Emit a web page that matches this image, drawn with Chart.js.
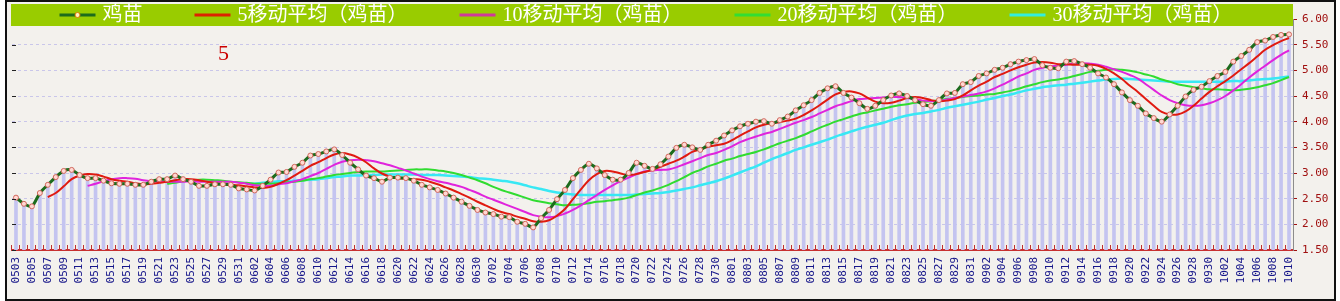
<!DOCTYPE html>
<html>
<head>
<meta charset="utf-8">
<title>鸡苗</title>
<script src="https://cdn.jsdelivr.net/npm/chart.js@4.4.0/dist/chart.umd.min.js"></script>
<style>
    html, body { margin: 0; padding: 0; background: #ffffff; }
    #marco {
        position: absolute; left: 5px; top: 0px;
        width: 1327px; height: 297px;
        border: 2px solid #111111;
        background: #f3f1ed;
    }
    #marco canvas { display: block; }
</style>
</head>
<body>
<div id="marco"><canvas id="grafica-jimiao" width="1327" height="297"></canvas></div>
<script>
// Fechas (MMDD), un punto por día
const fechas = [
    '0503','0504','0505','0506','0507','0508','0509','0510','0511','0512','0513','0514','0515','0516','0517','0518','0519','0520','0521','0522','0523','0524','0525','0526','0527','0528','0529','0530','0531',
    '0601','0602','0603','0604','0605','0606','0607','0608','0609','0610','0611','0612','0613','0614','0615','0616','0617','0618','0619','0620','0621','0622','0623','0624','0625','0626','0627','0628','0629','0630',
    '0701','0702','0703','0704','0705','0706','0707','0708','0709','0710','0711','0712','0713','0714','0715','0716','0717','0718','0719','0720','0721','0722','0723','0724','0725','0726','0727','0728','0729','0730','0731',
    '0801','0802','0803','0804','0805','0806','0807','0808','0809','0810','0811','0812','0813','0814','0815','0816','0817','0818','0819','0820','0821','0822','0823','0824','0825','0826','0827','0828','0829','0830','0831',
    '0901','0902','0903','0904','0905','0906','0907','0908','0909','0910','0911','0912','0913','0914','0915','0916','0917','0918','0919','0920','0921','0922','0923','0924','0925','0926','0927','0928','0929','0930',
    '1001','1002','1003','1004','1005','1006','1007','1008','1009','1010'
];

// Precio del pollito (鸡苗)
const precio = [
    2.52, 2.40, 2.35, 2.61, 2.77, 2.92, 3.04, 3.06, 2.96, 2.90,
    2.90, 2.85, 2.80, 2.79, 2.79, 2.77, 2.77, 2.83, 2.88, 2.88,
    2.95, 2.88, 2.83, 2.75, 2.75, 2.78, 2.78, 2.77, 2.70, 2.68,
    2.66, 2.75, 2.87, 3.01, 3.02, 3.12, 3.20, 3.34, 3.37, 3.42,
    3.46, 3.35, 3.20, 3.07, 2.95, 2.90, 2.83, 2.91, 2.91, 2.90,
    2.85, 2.77, 2.72, 2.67, 2.60, 2.52, 2.44, 2.36, 2.28, 2.23,
    2.20, 2.15, 2.14, 2.05, 2.01, 1.94, 2.12, 2.28, 2.49, 2.67,
    2.90, 3.06, 3.18, 3.09, 2.96, 2.87, 2.87, 3.00, 3.20, 3.14,
    3.08, 3.17, 3.32, 3.49, 3.55, 3.50, 3.45, 3.55, 3.63, 3.73,
    3.83, 3.91, 3.96, 4.00, 4.01, 3.96, 4.03, 4.10, 4.22, 4.32,
    4.42, 4.56, 4.65, 4.69, 4.56, 4.47, 4.36, 4.25, 4.31, 4.42,
    4.51, 4.55, 4.50, 4.42, 4.34, 4.31, 4.42, 4.55, 4.56, 4.73,
    4.77, 4.89, 4.94, 5.01, 5.05, 5.12, 5.17, 5.20, 5.22, 5.10,
    5.05, 5.04, 5.17, 5.18, 5.12, 5.05, 4.94, 4.86, 4.73, 4.57,
    4.42, 4.31, 4.16, 4.07, 4.00, 4.14, 4.31, 4.49, 4.62, 4.68,
    4.79, 4.89, 4.97, 5.17, 5.28, 5.40, 5.55, 5.58, 5.65, 5.69,
    5.70
];

// Medias móviles
const media5 = [
    null, null, null, null,
    2.53, 2.61, 2.74, 2.88, 2.95, 2.98,
    2.97, 2.93, 2.88, 2.85, 2.83, 2.80, 2.78, 2.79, 2.81, 2.83,
    2.86, 2.88, 2.88, 2.86, 2.83, 2.80, 2.78, 2.77, 2.76, 2.74,
    2.72, 2.71, 2.73, 2.79, 2.86, 2.95, 3.04, 3.14, 3.21, 3.29,
    3.36, 3.39, 3.36, 3.30, 3.21, 3.09, 2.99, 2.93, 2.90, 2.89,
    2.88, 2.87, 2.83, 2.78, 2.72, 2.66, 2.59, 2.52, 2.44, 2.37,
    2.30, 2.24, 2.20, 2.15, 2.11, 2.06, 2.05, 2.08, 2.17, 2.30,
    2.49, 2.68, 2.86, 2.98, 3.04, 3.03, 2.99, 2.96, 2.98, 3.02,
    3.06, 3.12, 3.18, 3.24, 3.32, 3.41, 3.46, 3.51, 3.54, 3.57,
    3.64, 3.73, 3.81, 3.89, 3.94, 3.97, 3.99, 4.02, 4.06, 4.13,
    4.22, 4.32, 4.43, 4.53, 4.58, 4.59, 4.55, 4.47, 4.39, 4.36,
    4.37, 4.41, 4.46, 4.48, 4.46, 4.42, 4.40, 4.41, 4.44, 4.51,
    4.61, 4.70, 4.78, 4.87, 4.93, 5.00, 5.06, 5.11, 5.15, 5.16,
    5.15, 5.12, 5.12, 5.11, 5.11, 5.11, 5.09, 5.03, 4.94, 4.83,
    4.70, 4.58, 4.44, 4.31, 4.19, 4.14, 4.14, 4.20, 4.31, 4.45,
    4.58, 4.69, 4.79, 4.90, 5.02, 5.14, 5.27, 5.40, 5.49, 5.57,
    5.63
];

const media10 = [
    null, null, null, null, null, null, null, null, null,
    2.75,
    2.79, 2.84, 2.88, 2.90, 2.90, 2.89, 2.86, 2.84, 2.83, 2.83,
    2.83, 2.83, 2.84, 2.83, 2.83, 2.83, 2.83, 2.83, 2.81, 2.79,
    2.76, 2.75, 2.75, 2.78, 2.80, 2.84, 2.88, 2.94, 3.00, 3.08,
    3.16, 3.22, 3.25, 3.26, 3.25, 3.23, 3.19, 3.15, 3.10, 3.05,
    2.99, 2.93, 2.88, 2.84, 2.81, 2.77, 2.73, 2.67, 2.61, 2.54,
    2.48, 2.42, 2.36, 2.30, 2.24, 2.18, 2.15, 2.14, 2.16, 2.21,
    2.28, 2.37, 2.47, 2.57, 2.67, 2.76, 2.84, 2.91, 2.98, 3.03,
    3.05, 3.06, 3.07, 3.11, 3.17, 3.23, 3.29, 3.35, 3.39, 3.45,
    3.52, 3.60, 3.66, 3.71, 3.76, 3.80, 3.86, 3.92, 3.98, 4.03,
    4.09, 4.16, 4.23, 4.30, 4.35, 4.40, 4.44, 4.45, 4.46, 4.47,
    4.48, 4.48, 4.46, 4.44, 4.41, 4.40, 4.40, 4.43, 4.46, 4.49,
    4.52, 4.55, 4.59, 4.65, 4.72, 4.80, 4.88, 4.94, 5.01, 5.05,
    5.08, 5.09, 5.11, 5.13, 5.14, 5.13, 5.11, 5.07, 5.02, 4.97,
    4.91, 4.84, 4.73, 4.62, 4.51, 4.42, 4.36, 4.32, 4.31, 4.32,
    4.36, 4.42, 4.50, 4.61, 4.73, 4.86, 4.98, 5.09, 5.20, 5.30,
    5.39
];

const media20 = [
    null, null, null, null, null, null, null, null, null, null,
    null, null, null, null, null, null, null, null, null,
    2.79,
    2.81, 2.84, 2.86, 2.87, 2.87, 2.86, 2.85, 2.83, 2.82, 2.81,
    2.79, 2.79, 2.79, 2.80, 2.82, 2.83, 2.85, 2.88, 2.90, 2.93,
    2.96, 2.98, 3.00, 3.02, 3.03, 3.03, 3.03, 3.04, 3.05, 3.06,
    3.07, 3.07, 3.07, 3.05, 3.03, 3.00, 2.96, 2.91, 2.86, 2.80,
    2.73, 2.67, 2.62, 2.57, 2.52, 2.47, 2.44, 2.41, 2.39, 2.37,
    2.38, 2.39, 2.41, 2.44, 2.45, 2.47, 2.49, 2.52, 2.57, 2.62,
    2.66, 2.71, 2.77, 2.84, 2.92, 3.00, 3.06, 3.13, 3.18, 3.24,
    3.28, 3.33, 3.37, 3.41, 3.46, 3.52, 3.58, 3.63, 3.68, 3.74,
    3.81, 3.88, 3.94, 4.00, 4.05, 4.10, 4.15, 4.18, 4.22, 4.25,
    4.29, 4.32, 4.34, 4.37, 4.38, 4.40, 4.42, 4.44, 4.46, 4.48,
    4.50, 4.51, 4.53, 4.54, 4.57, 4.60, 4.64, 4.69, 4.73, 4.77,
    4.80, 4.82, 4.85, 4.89, 4.93, 4.97, 4.99, 5.01, 5.02, 5.01,
    4.99, 4.96, 4.92, 4.88, 4.82, 4.78, 4.73, 4.70, 4.67, 4.65,
    4.63, 4.63, 4.62, 4.61, 4.62, 4.64, 4.67, 4.71, 4.75, 4.81,
    4.87
];

const media30 = [
    null, null, null, null, null, null, null, null, null, null,
    null, null, null, null, null, null, null, null, null, null,
    null, null, null, null, null, null, null, null, null,
    2.79,
    2.79, 2.81, 2.82, 2.84, 2.84, 2.85, 2.86, 2.87, 2.88, 2.90,
    2.92, 2.93, 2.95, 2.95, 2.96, 2.96, 2.97, 2.97, 2.97, 2.97,
    2.97, 2.96, 2.96, 2.96, 2.95, 2.94, 2.93, 2.92, 2.90, 2.89,
    2.87, 2.85, 2.83, 2.80, 2.76, 2.72, 2.69, 2.65, 2.62, 2.60,
    2.58, 2.57, 2.57, 2.57, 2.57, 2.57, 2.57, 2.57, 2.58, 2.59,
    2.60, 2.61, 2.63, 2.66, 2.69, 2.72, 2.76, 2.80, 2.84, 2.89,
    2.95, 3.01, 3.07, 3.13, 3.20, 3.27, 3.33, 3.39, 3.45, 3.50,
    3.55, 3.60, 3.65, 3.71, 3.76, 3.81, 3.86, 3.90, 3.94, 3.98,
    4.03, 4.08, 4.12, 4.15, 4.17, 4.20, 4.23, 4.27, 4.30, 4.33,
    4.36, 4.39, 4.43, 4.46, 4.50, 4.53, 4.57, 4.61, 4.64, 4.67,
    4.69, 4.71, 4.72, 4.74, 4.76, 4.78, 4.80, 4.82, 4.83, 4.84,
    4.83, 4.82, 4.81, 4.80, 4.79, 4.78, 4.78, 4.78, 4.78, 4.78,
    4.78, 4.78, 4.78, 4.79, 4.79, 4.80, 4.82, 4.83, 4.84, 4.86,
    4.88
];

const etiquetasEjeY = [1.5, 2, 2.5, 3, 3.5, 4, 4.5, 5, 5.5, 6];

// Franja verde de la leyenda, marcas del borde izquierdo y el "5" rojo
const bandaLeyenda = {
    id: 'bandaLeyenda',
    afterDraw(chart) {
        const ctx = chart.ctx;
        const area = chart.chartArea;
        ctx.save();

        // marcas cortas en el borde izquierdo
        ctx.strokeStyle = '#222222';
        ctx.lineWidth = 1;
        etiquetasEjeY.forEach(v => {
            const y = Math.round(chart.scales.y.getPixelForValue(v)) + 0.5;
            ctx.beginPath();
            ctx.moveTo(area.left, y);
            ctx.lineTo(area.left + 4, y);
            ctx.stroke();
        });

        const x0 = 4, x1 = 1286, y0 = 2, y1 = 24;
        ctx.fillStyle = '#99cc00';
        ctx.fillRect(x0, y0, x1 - x0, y1 - y0);

        ctx.font = '20px "Liberation Serif", "Noto Sans CJK SC", serif';
        ctx.textBaseline = 'middle';
        const series = chart.data.datasets.filter(d => d.type === 'line');
        const muestra = 36, hueco = 7, separacion = 52;
        const anchos = series.map(d => muestra + hueco + ctx.measureText(d.label).width);
        const total = anchos.reduce((a, b) => a + b, 0) + separacion * (series.length - 1);
        let x = 639 - total / 2;
        const yc = 13;
        series.forEach((d, k) => {
            ctx.strokeStyle = d.legendColor || d.borderColor;
            ctx.lineWidth = 3;
            ctx.beginPath();
            ctx.moveTo(x, yc);
            ctx.lineTo(x + muestra, yc);
            ctx.stroke();
            if (k === 0) {
                ctx.beginPath();
                ctx.arc(x + muestra / 2, yc, 2.5, 0, Math.PI * 2);
                ctx.fillStyle = '#fff2c0';
                ctx.fill();
                ctx.lineWidth = 1;
                ctx.strokeStyle = '#e07800';
                ctx.stroke();
            }
            ctx.fillStyle = '#ffffff';
            ctx.fillText(d.label, x + muestra + hueco, yc + 1);
            x += anchos[k] + separacion;
        });

        ctx.fillStyle = '#cc0000';
        ctx.font = '22px "Liberation Serif", serif';
        ctx.fillText('5', 211, 52);
        ctx.restore();
    }
};

const graficaCanvas = document.getElementById('grafica-jimiao');

const chart = new Chart(graficaCanvas, {
    type: 'bar',
    data: {
        labels: fechas,
        datasets: [
            {
                type: 'line',
                label: '鸡苗',
                data: precio,
                borderColor: '#1c6b1c',
                borderWidth: 3,
                pointRadius: 2.5,
                pointBackgroundColor: '#ffd8d2',
                pointBorderColor: '#d0675c',
                pointBorderWidth: 1,
                tension: 0.25,
                order: 0
            },
            {
                type: 'line',
                label: '5移动平均（鸡苗）',
                data: media5,
                borderColor: '#e01a10',
                legendColor: '#dd2200',
                borderWidth: 2,
                pointRadius: 0,
                tension: 0.4,
                order: 1
            },
            {
                type: 'line',
                label: '10移动平均（鸡苗）',
                data: media10,
                borderColor: '#e024dc',
                legendColor: '#d0389a',
                borderWidth: 2,
                pointRadius: 0,
                tension: 0.4,
                order: 2
            },
            {
                type: 'line',
                label: '20移动平均（鸡苗）',
                data: media20,
                borderColor: '#30dc30',
                legendColor: '#33dd33',
                borderWidth: 2,
                pointRadius: 0,
                tension: 0.4,
                order: 3
            },
            {
                type: 'line',
                label: '30移动平均（鸡苗）',
                data: media30,
                borderColor: '#38e8f4',
                legendColor: '#33eedd',
                borderWidth: 2.5,
                pointRadius: 0,
                tension: 0.4,
                order: 4
            },
            {
                type: 'bar',
                label: '鸡苗柱',
                data: precio,
                backgroundColor: '#c4c4f0',
                barThickness: 3,
                order: 5
            }
        ]
    },
    options: {
        responsive: false,
        animation: false,
        layout: { padding: { top: 17, left: 0, right: 0, bottom: 0 } },
        plugins: {
            legend: { display: false },
            tooltip: { enabled: false }
        },
        scales: {
            x: {
                grid: {
                    drawOnChartArea: false,
                    drawTicks: true,
                    tickLength: -5,
                    tickColor: '#c03030',
                    tickWidth: 1
                },
                border: { display: true, color: '#c83030', width: 2 },
                ticks: {
                    autoSkip: false,
                    maxRotation: 90,
                    minRotation: 90,
                    padding: 12,
                    color: '#16168a',
                    font: { family: 'DejaVu Sans Mono', size: 11 },
                    callback: (v, i) => (i % 2 === 0 ? fechas[i] : '')
                },
                afterFit: (scale) => {
                    scale.height = 49;
                    scale.paddingLeft = 0;
                    scale.paddingRight = 0;
                }
            },
            y: {
                position: 'right',
                min: etiquetasEjeY[0],
                max: etiquetasEjeY[etiquetasEjeY.length - 1],
                afterBuildTicks: (scale) => { scale.ticks = etiquetasEjeY.map(v => ({ value: v })); },
                ticks: {
                    color: '#a01010',
                    padding: 5,
                    font: { family: 'DejaVu Sans Mono', size: 11 },
                    callback: (v) => Number(v).toFixed(2)
                },
                grid: {
                    color: '#c9c6ea',
                    tickLength: 4,
                    tickColor: '#a01010'
                },
                border: { display: true, color: '#8c8c8c', dash: [3, 3] },
                afterFit: (scale) => { scale.width = 41; }
            }
        }
    },
    plugins: [bandaLeyenda]
});
</script>
</body>
</html>
